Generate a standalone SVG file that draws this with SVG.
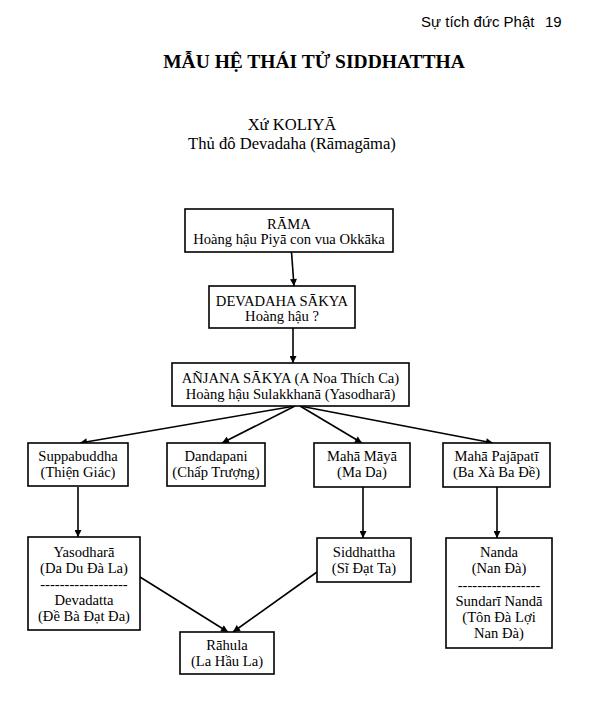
<svg xmlns="http://www.w3.org/2000/svg" width="600" height="711" viewBox="0 0 600 711">
<defs>
<style>
.bg{fill:#fff}
.box{fill:#fff;stroke:#000;stroke-width:1.6}
.t{font-family:"Liberation Serif","Times New Roman",serif;font-size:14.6px;fill:#000;text-anchor:middle}
.title{font-family:"Liberation Serif","Times New Roman",serif;font-size:19.5px;font-weight:bold;fill:#000;text-anchor:middle}
.sub{font-family:"Liberation Serif","Times New Roman",serif;font-size:16.6px;fill:#000;text-anchor:middle}
.hdr{font-family:"Liberation Sans",Arial,sans-serif;font-size:15px;fill:#000}
.c{fill:none;stroke:#000;stroke-width:1.6;marker-end:url(#ah)}
</style>
<marker id="ah" viewBox="0 0 10 10" refX="10" refY="5" markerWidth="8" markerHeight="7" markerUnits="userSpaceOnUse" orient="auto">
<path d="M0,0 L10,5 L0,10 z" fill="#000"/>
</marker>
</defs>
<rect class="bg" x="0" y="0" width="600" height="711"/>
<g id="header">
<text class="hdr" x="421" y="27">Sự tích đức Phật</text>
<text class="hdr" x="545" y="27">19</text>
</g>
<g id="title">
<text class="title" x="314" y="68">MẪU HỆ THÁI TỬ SIDDHATTHA</text>
<text class="sub" x="292" y="129.5">Xứ KOLIYĀ</text>
<text class="sub" x="292" y="148.5">Thủ đô Devadaha (Rāmagāma)</text>
</g>
<g id="connectors">
<path class="c" d="M291.5,252 L294,286"/>
<path class="c" d="M293,328 L293,363"/>
<path class="c" d="M295,406 L80,443"/>
<path class="c" d="M295,406 L222,443"/>
<path class="c" d="M300,406 L362,443"/>
<path class="c" d="M300,406 L493,443"/>
<path class="c" d="M78,487 L78,537"/>
<path class="c" d="M363,487 L363,538"/>
<path class="c" d="M497,487 L497,538"/>
<path class="c" d="M140,577 L228,632"/>
<path class="c" d="M317,572 L233,632"/>
</g>
<g id="rama">
<rect class="box" x="185" y="209" width="208" height="43"/>
<text class="t" x="289" y="229">RĀMA</text>
<text class="t" x="289" y="244">Hoàng hậu Piyā con vua Okkāka</text>
</g>
<g id="devadaha">
<rect class="box" x="209" y="286" width="146" height="42"/>
<text class="t" x="282" y="306">DEVADAHA SĀKYA</text>
<text class="t" x="282" y="321">Hoàng hậu ?</text>
</g>
<g id="anjana">
<rect class="box" x="172" y="363" width="237" height="43"/>
<text class="t" x="290.5" y="383">AÑJANA SĀKYA (A Noa Thích Ca)</text>
<text class="t" x="290.5" y="399">Hoàng hậu Sulakkhanā (Yasodharā)</text>
</g>
<g id="suppabuddha">
<rect class="box" x="28" y="443" width="100" height="43"/>
<text class="t" x="78" y="461">Suppabuddha</text>
<text class="t" x="78" y="477">(Thiện Giác)</text>
</g>
<g id="dandapani">
<rect class="box" x="167" y="443" width="98" height="43"/>
<text class="t" x="216" y="461">Dandapani</text>
<text class="t" x="216" y="477">(Chấp Trượng)</text>
</g>
<g id="mahamaya">
<rect class="box" x="314" y="443" width="96" height="44"/>
<text class="t" x="362" y="461">Mahā Māyā</text>
<text class="t" x="362" y="477">(Ma Da)</text>
</g>
<g id="pajapati">
<rect class="box" x="443" y="443" width="107" height="44"/>
<text class="t" x="496.5" y="461">Mahā Pajāpatī</text>
<text class="t" x="496.5" y="477">(Ba Xà Ba Đề)</text>
</g>
<g id="yasodhara">
<rect class="box" x="28" y="537" width="112" height="93"/>
<text class="t" x="84" y="557">Yasodharā</text>
<text class="t" x="84" y="573">(Da Du Đà La)</text>
<text class="t" x="84" y="589">------------------</text>
<text class="t" x="84" y="605">Devadatta</text>
<text class="t" x="84" y="621">(Đề Bà Đạt Đa)</text>
</g>
<g id="siddhattha">
<rect class="box" x="317" y="538" width="94" height="44"/>
<text class="t" x="364" y="557">Siddhattha</text>
<text class="t" x="364" y="573">(Sĩ Đạt Ta)</text>
</g>
<g id="nanda">
<rect class="box" x="446" y="538" width="106" height="110"/>
<text class="t" x="499" y="557">Nanda</text>
<text class="t" x="499" y="573">(Nan Đà)</text>
<text class="t" x="499" y="590">-----------------</text>
<text class="t" x="499" y="606">Sundarī Nandā</text>
<text class="t" x="499" y="622">(Tôn Đà Lợi</text>
<text class="t" x="499" y="638">Nan Đà)</text>
</g>
<g id="rahula">
<rect class="box" x="180" y="632" width="94" height="42"/>
<text class="t" x="227" y="650">Rāhula</text>
<text class="t" x="227" y="666">(La Hầu La)</text>
</g>
</svg>
